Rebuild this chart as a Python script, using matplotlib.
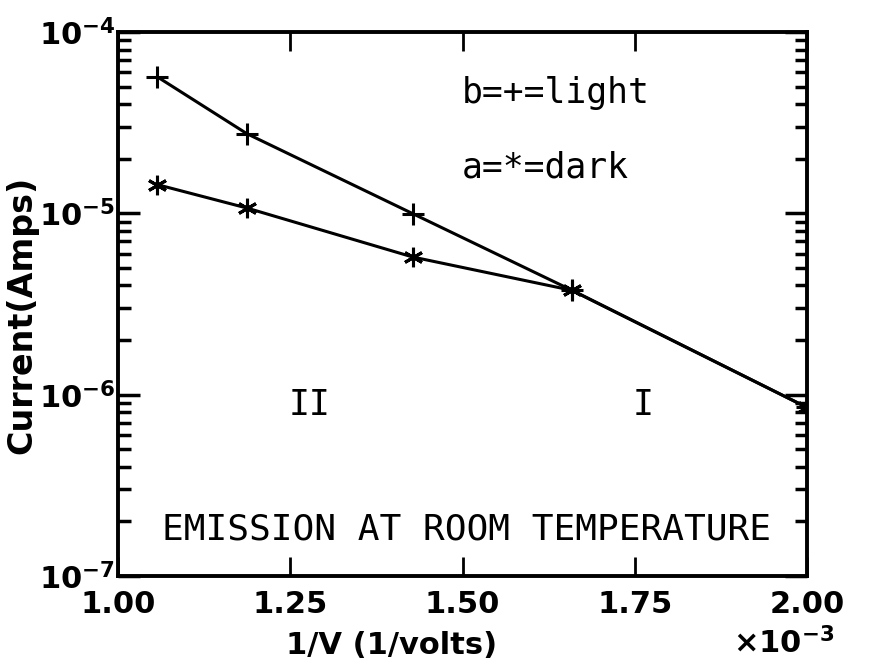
import matplotlib
matplotlib.use("Agg")
import matplotlib.pyplot as plt
from matplotlib.ticker import LogLocator, NullFormatter

plt.rcParams["mathtext.default"] = "bf"

# 1/V in units of 1e-3 (1/volts)
inv_v = [1.057, 1.187, 1.428, 1.659, 2.000]
light = [5.66e-5, 2.75e-5, 9.95e-6, 3.76e-6, 8.5e-7]
dark = [1.44e-5, 1.07e-5, 5.74e-6, 3.76e-6, 8.5e-7]

xticks = [1.00, 1.25, 1.50, 1.75, 2.00]
xticklabels = ["1.00", "1.25", "1.50", "1.75", "2.00"]
yticks = [1e-7, 1e-6, 1e-5, 1e-4]
yticklabels = [r"$10^{-7}$", r"$10^{-6}$", r"$10^{-5}$", r"$10^{-4}$"]

fig = plt.figure(figsize=(8.72, 6.65), dpi=100)
ax = fig.add_axes([0.1353, 0.1338, 0.7902, 0.8181])

ax.plot(inv_v, light, color="black", lw=2.2, marker="+", ms=16, mew=2.2)
ax.plot(inv_v, dark, color="black", lw=2.2, marker=(6, 2, 0), ms=14, mew=2.2)

ax.set_yscale("log")
ax.set_xlim(1.0, 2.0)
ax.set_ylim(1e-7, 1e-4)

ax.set_xticks(xticks)
ax.set_xticklabels(xticklabels, fontsize=22, fontweight="bold")
ax.set_yticks(yticks)
ax.set_yticklabels(yticklabels, fontsize=22, va="center_baseline")
ax.yaxis.set_minor_locator(LogLocator(base=10, subs=range(2, 10)))
ax.yaxis.set_minor_formatter(NullFormatter())

ax.tick_params(axis="x", which="major", direction="in", length=14, width=2,
               top=True, pad=10)
ax.tick_params(axis="y", which="major", direction="in", length=16, width=2.5,
               right=True, pad=2)
ax.tick_params(axis="y", which="minor", direction="in", length=9, width=2.5,
               right=True)
for s in ax.spines.values():
    s.set_linewidth(2.8)

mono = "DejaVu Sans Mono"
fig.text(462 / 872, 1 - 93 / 665, "b=+=light", fontsize=25, family=mono,
         va="center", ha="left")
fig.text(462 / 872, 1 - 168 / 665, "a=*=dark", fontsize=25, family=mono,
         va="center", ha="left")
fig.text(310 / 872, 1 - 405 / 665, "II", fontsize=25, family=mono,
         va="center", ha="center")
fig.text(643 / 872, 1 - 405 / 665, "I", fontsize=25, family=mono,
         va="center", ha="center")
fig.text(466 / 872, 1 - 530 / 665, "EMISSION AT ROOM TEMPERATURE",
         fontsize=26, family=mono, va="center", ha="center")

fig.text(22 / 872, 1 - 315 / 665, "Current(Amps)", rotation=90,
         fontsize=24, fontweight="bold", va="center", ha="center")
fig.text(392 / 872, 1 - 645 / 665, "1/V (1/volts)", fontsize=22,
         fontweight="bold", va="center", ha="center")
fig.text(733 / 872, 1 - 643 / 665, r"$\times 10^{-3}$", fontsize=22,
         va="center", ha="left")

fig.savefig("out.png", dpi=100)
